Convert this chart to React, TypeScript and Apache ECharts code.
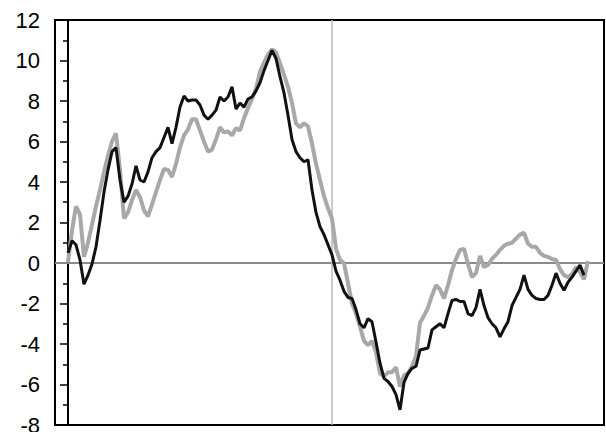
import React, { useEffect, useRef } from "react";
import * as echarts from "echarts";

// index k: sampling step along the time axis
const blackValues: (number | null)[] = [
  0.5, 1.1, 0.9, 0.15, -1.05, -0.6, -0.05, 0.8, 2.1, 3.5,
  4.6, 5.5, 5.7, 4.1, 3.0, 3.3, 3.9, 4.8, 4.1, 4.0,
  4.5, 5.2, 5.5, 5.7, 6.2, 6.7, 5.9, 6.7, 7.7, 8.25,
  8.0, 8.05, 8.05, 7.8, 7.3, 7.1, 7.3, 7.55, 8.2, 8.0,
  8.2, 8.7, 7.6, 7.9, 7.7, 8.1, 8.2, 8.5, 8.9, 9.5,
  10.0, 10.5, 10.1, 9.2, 8.4, 7.3, 6.1, 5.5, 5.2, 5.0,
  5.1, 3.6, 2.5, 1.8, 1.4, 0.9, 0.4, -0.4, -0.85, -1.4,
  -1.7, -1.75, -2.3, -3.0, -3.2, -2.75, -2.9, -3.9, -4.95, -5.7,
  -5.85, -6.1, -6.5, -7.25, -5.9, -5.45, -5.2, -5.1, -4.3, -4.25,
  -4.2, -3.3, -3.15, -3.0, -3.2, -2.5, -1.85, -1.8, -1.9, -1.9,
  -2.5, -2.6, -2.2, -1.3, -2.1, -2.7, -3.0, -3.2, -3.65, -3.25,
  -2.9, -2.1, -1.7, -1.3, -0.6, -1.3, -1.6, -1.75, -1.8, -1.8,
  -1.6, -1.1, -0.5, -1.0, -1.35, -0.95, -0.7, -0.4, -0.1, -0.6,
  null,
];

const grayValues: number[] = [
  0.05, 1.6, 2.8, 2.4, 0.3, 1.0, 1.9, 2.8, 3.6, 4.5,
  5.3, 6.0, 6.4, 4.6, 2.2, 2.5, 3.1, 3.6, 3.25, 2.6,
  2.3, 2.9, 3.5, 4.1, 4.65, 4.6, 4.25, 4.9, 5.7, 6.3,
  6.6, 7.1, 7.1, 6.55, 6.0, 5.5, 5.6, 6.1, 6.7, 6.45,
  6.5, 6.3, 6.65, 6.55, 7.15, 7.65, 8.1, 8.6, 9.45, 9.9,
  10.3, 10.55, 10.4, 9.85, 9.3, 8.7, 7.9, 6.9, 6.7, 6.9,
  6.75, 5.9, 4.9, 4.1, 3.3, 2.7, 2.2, 0.7, 0.15, 0.0,
  -1.0, -2.0, -2.5, -3.15, -3.85, -4.05, -3.85, -4.4, -5.45, -5.6,
  -5.4, -5.4, -5.15, -6.1, -5.55, -5.45, -5.1, -4.6, -2.95, -2.6,
  -2.2, -1.6, -1.1, -1.3, -1.75, -1.1, -0.35, 0.2, 0.65, 0.7,
  -0.05, -0.7, -0.5, 0.35, -0.2, -0.1, 0.2, 0.4, 0.65, 0.85,
  0.95, 1.0, 1.2, 1.4, 1.5, 0.95, 0.8, 0.8, 0.5, 0.35,
  0.3, 0.2, 0.15, -0.3, -0.6, -0.7, -0.55, -0.2, -0.45, -0.8,
  0.1,
];

const yTicks = [-8, -6, -4, -2, 0, 2, 4, 6, 8, 10, 12];
const xMin = -3.25;
const xMax = 134;
const markerIndex = 66;
const zeroLevel = 0;

export default function App() {
  const ref = useRef<HTMLDivElement>(null);
  useEffect(() => {
    if (!ref.current) return;
    const chart = echarts.init(ref.current, undefined, { renderer: "svg" });
    const toPairs = (arr: (number | null)[]) => arr.map((v, i) => [i, v]);
    chart.setOption({
      animation: false,
      backgroundColor: "#ffffff",
      grid: {
        left: 55,
        right: 2,
        top: 20,
        bottom: 7,
        containLabel: false,
        outerBoundsMode: "none",
        show: true,
        borderColor: "#000",
        borderWidth: 2,
        backgroundColor: "transparent",
      },
      xAxis: {
        type: "value",
        min: xMin,
        max: xMax,
        axisLine: { show: true, lineStyle: { color: "#000", width: 2 } },
        axisTick: { show: false },
        axisLabel: { show: false },
        splitLine: { show: false },
      },
      yAxis: {
        type: "value",
        min: yTicks[0],
        max: yTicks[yTicks.length - 1],
        interval: 2,
        axisLine: { show: true, lineStyle: { color: "#000", width: 2 } },
        axisTick: { show: true, length: 8, lineStyle: { color: "#000", width: 1.5 } },
        minorTick: { show: true, splitNumber: 2, length: 5, lineStyle: { color: "#000", width: 1.5 } },
        axisLabel: {
          color: "#000",
          fontSize: 22,
          fontFamily: "Liberation Sans, Arial, sans-serif",
          margin: 15,
        },
        splitLine: { show: false },
      },
      series: [
        {
          type: "line",
          data: toPairs(grayValues),
          showSymbol: false,
          symbol: "none",
          lineStyle: { color: "#a8a8a8", width: 4 },
          z: 2,
          markLine: {
            silent: true,
            symbol: "none",
            label: { show: false },
            lineStyle: { color: "#b8b8b8", width: 1.5, type: "solid" },
            data: [{ yAxis: zeroLevel }, { xAxis: markerIndex }],
            z: 1,
          },
        },
        {
          type: "line",
          data: toPairs(blackValues),
          showSymbol: false,
          symbol: "none",
          connectNulls: false,
          lineStyle: { color: "#111", width: 3 },
          z: 3,
        },
      ],
    });
    return () => chart.dispose();
  }, []);
  return (
    <div
      ref={ref}
      style={{ position: "fixed", left: 0, top: 0, width: 606, height: 432, background: "#fff" }}
    />
  );
}
